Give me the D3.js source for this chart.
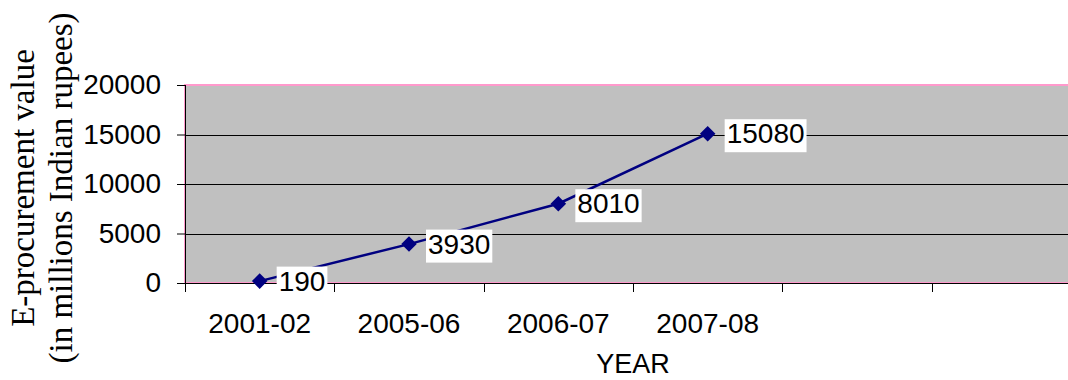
<!DOCTYPE html>
<html>
<head>
<meta charset="utf-8">
<script src="https://cdn.jsdelivr.net/npm/d3@7"></script>
<style>
  html, body { margin: 0; padding: 0; background: #fff; }
  svg { display: block; }
</style>
</head>
<body>
<svg id="grafico" width="1068" height="380"></svg>
<script>
// dados
const anos    = ["2001-02", "2005-06", "2006-07", "2007-08"];
const valores = [190, 3930, 8010, 15080];
const yTicks  = [0, 5000, 10000, 15000, 20000];
const nSlots  = 6;   // o eixo tem 6 categorias, as 2 ultimas vazias

const width = 1068, height = 380;
const m = { left: 185, top: 85, bottom: 283, right: 1081 };
const sans = "'Liberation Sans', Arial, sans-serif";
const serif = "'Liberation Serif', 'Times New Roman', serif";

const svg = d3.select("#grafico");

const x = d3.scaleBand()
    .domain(d3.range(nSlots))
    .range([m.left, m.right]);

const y = d3.scaleLinear()
    .domain([0, 20000])
    .range([m.bottom, m.top]);

// area do grafico
svg.append("rect")
    .attr("x", m.left).attr("y", m.top)
    .attr("width", m.right - m.left).attr("height", m.bottom - m.top)
    .attr("fill", "#c0c0c0")
    .attr("stroke", "#ff99cc")
    .attr("stroke-width", 2);

// linhas de grade
svg.append("g")
    .selectAll("line")
    .data(yTicks.filter(t => t > 0 && t < 20000))
    .join("line")
    .attr("x1", m.left).attr("x2", m.right)
    .attr("y1", d => Math.round(y(d)) + 0.5)
    .attr("y2", d => Math.round(y(d)) + 0.5)
    .attr("stroke", "#000")
    .attr("stroke-width", 1);

// eixo Y
const gy = svg.append("g")
    .attr("transform", `translate(${m.left},0)`)
    .call(d3.axisLeft(y).tickValues(yTicks).tickSize(8).tickPadding(16).tickFormat(d3.format("d")));
gy.select(".domain").remove();
gy.selectAll(".tick line").attr("stroke", "#000");
gy.selectAll("text")
    .attr("font-family", sans).attr("font-size", 28).attr("fill", "#000");

svg.append("line")
    .attr("x1", m.left + 0.5).attr("x2", m.left + 0.5)
    .attr("y1", m.top).attr("y2", m.bottom)
    .attr("stroke", "#000");

// eixo X
svg.append("line")
    .attr("x1", m.left).attr("x2", m.right)
    .attr("y1", m.bottom + 0.5).attr("y2", m.bottom + 0.5)
    .attr("stroke", "#000");

svg.append("g")
    .selectAll("line")
    .data(d3.range(nSlots))
    .join("line")
    .attr("x1", d => Math.round(x(d)) + 0.5)
    .attr("x2", d => Math.round(x(d)) + 0.5)
    .attr("y1", m.bottom).attr("y2", m.bottom + 9)
    .attr("stroke", "#000");

svg.append("g")
    .selectAll("text")
    .data(anos)
    .join("text")
    .attr("x", (d, i) => x(i) + x.bandwidth() / 2)
    .attr("y", 333)
    .attr("text-anchor", "middle")
    .attr("font-family", sans).attr("font-size", 28)
    .text(d => d);

svg.append("text")
    .attr("x", (m.left + m.right) / 2)
    .attr("y", 373)
    .attr("text-anchor", "middle")
    .attr("font-family", sans).attr("font-size", 27)
    .text("YEAR");

// titulo do eixo Y
const ty = svg.append("text")
    .attr("transform", "translate(34,188) rotate(-90)")
    .attr("text-anchor", "middle")
    .attr("font-family", serif).attr("font-size", 33);
ty.append("tspan").attr("x", 0).attr("dy", 0).text("E-procurement value");
ty.append("tspan").attr("x", 0).attr("dy", 38).text("(in millions Indian rupees)");

// serie
const cx = (d, i) => x(i) + x.bandwidth() / 2;

svg.append("path")
    .datum(valores)
    .attr("fill", "none")
    .attr("stroke", "#000080")
    .attr("stroke-width", 2.5)
    .attr("d", d3.line().x(cx).y(d => y(d)));

svg.append("g")
    .selectAll("path")
    .data(valores)
    .join("path")
    .attr("transform", (d, i) => `translate(${cx(d, i)},${y(d)}) rotate(45)`)
    .attr("d", d3.symbol(d3.symbolSquare, 121))
    .attr("fill", "#000080");

// rotulos de dados com fundo branco
const rot = svg.append("g")
    .selectAll("g")
    .data(valores)
    .join("g")
    .attr("transform", (d, i) => `translate(${cx(d, i) + 19},${y(d)})`);

rot.append("text")
    .attr("dominant-baseline", "central")
    .attr("font-family", sans).attr("font-size", 28)
    .text(d => d);

rot.each(function() {
    const g = d3.select(this);
    const b = g.select("text").node().getBBox();
    g.insert("rect", "text")
        .attr("x", b.x - 2).attr("y", b.y + 1)
        .attr("width", b.width + 4).attr("height", b.height + 2)
        .attr("fill", "#fff");
});
</script>
</body>
</html>
